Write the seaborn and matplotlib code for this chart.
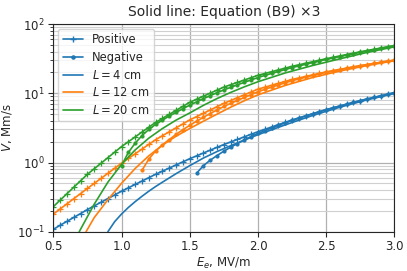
import numpy as np
import matplotlib
matplotlib.use("Agg")
import matplotlib.pyplot as plt
import seaborn as sns
from matplotlib.lines import Line2D

# Electric field grid for the measured curves, MV/m
e_pos = np.round(np.arange(0.5, 3.0001, 0.05), 2)

# Measured velocities, Mm/s (positive streamers)
v_pos_4 = [0.108, 0.124, 0.141, 0.161, 0.183, 0.209, 0.236, 0.267, 0.301, 0.340,
           0.385, 0.431, 0.482, 0.540, 0.604, 0.676, 0.750, 0.832, 0.923, 1.023,
           1.135, 1.247, 1.371, 1.507, 1.656, 1.820, 1.982, 2.158, 2.350, 2.559,
           2.786, 3.013, 3.258, 3.524, 3.811, 4.121, 4.416, 4.732, 5.070, 5.433,
           5.821, 6.180, 6.561, 6.966, 7.396, 7.852, 8.279, 8.730, 9.204, 9.705,
           10.23]
v_pos_12 = [0.180, 0.213, 0.253, 0.300, 0.356, 0.422, 0.499, 0.590, 0.698, 0.826,
            0.977, 1.143, 1.337, 1.563, 1.828, 2.138, 2.438, 2.780, 3.170, 3.614,
            4.121, 4.60, 5.14, 5.74, 6.41, 7.16, 7.87, 8.65, 9.51, 10.45,
            11.48, 12.25, 13.06, 13.93, 14.86, 15.85, 16.67, 17.54, 18.45, 19.41,
            20.42, 21.28, 22.18, 23.12, 24.10, 25.12, 26.06, 27.04, 28.05, 29.11,
            30.20]
v_pos_20 = [0.230, 0.286, 0.354, 0.440, 0.545, 0.676, 0.813, 0.977, 1.175, 1.413,
            1.698, 1.995, 2.344, 2.754, 3.236, 3.802, 4.345, 4.966, 5.675, 6.486,
            7.413, 8.20, 9.08, 10.05, 11.12, 12.30, 13.30, 14.39, 15.56, 16.83,
            18.20, 19.32, 20.51, 21.78, 23.12, 24.55, 25.82, 27.16, 28.58, 30.06,
            31.62, 33.11, 34.67, 36.31, 38.02, 39.81, 41.50, 43.25, 45.08, 46.99,
            48.98]

# Negative streamers start at higher fields
e_neg_4 = np.round(np.arange(1.55, 3.0001, 0.05), 2)
v_neg_4 = [0.70, 0.90, 1.08, 1.26, 1.46, 1.66, 1.88, 2.12, 2.37, 2.63,
           2.88, 3.15, 3.44, 3.74, 4.05, 4.37, 4.70, 5.04, 5.40, 5.78,
           6.15, 6.54, 6.95, 7.38, 7.83, 8.26, 8.71, 9.18, 9.68, 10.2]
e_neg_12 = np.round(np.arange(1.15, 3.0001, 0.05), 2)
v_neg_12 = [0.77, 1.12, 1.47, 1.80, 2.15, 2.55, 2.98, 3.45, 3.95, 4.5,
            5.1, 5.75, 6.45, 7.15, 7.9, 8.7, 9.6, 10.5, 11.4, 12.3,
            13.2, 14.2, 15.2, 16.1, 17.1, 18.1, 19.1, 20.1, 21.0, 22.0,
            23.0, 24.0, 25.0, 26.0, 27.0, 28.0, 29.1, 30.1]
e_neg_20 = np.round(np.arange(1.0, 3.0001, 0.05), 2)
v_neg_20 = [0.90, 1.40, 1.90, 2.45, 3.0, 3.55, 4.1, 4.7, 5.3, 6.0,
            6.75, 7.5, 8.35, 9.25, 10.2, 11.2, 12.2, 13.3, 14.4, 15.6,
            16.9, 18.1, 19.4, 20.7, 22.1, 23.5, 24.9, 26.3, 27.8, 29.3,
            30.9, 32.4, 34.0, 35.7, 37.4, 39.2, 41.0, 42.8, 44.7, 46.7, 48.7]

# Equation (B9) x3
e_eq_4 = [0.9, 0.95, 1.0, 1.05, 1.1, 1.15, 1.2, 1.25, 1.3, 1.4, 1.5, 1.6, 1.7, 1.8,
          1.9, 2.0, 2.2, 2.4, 2.6, 2.8, 3.0]
v_eq_4 = [0.100, 0.14, 0.18, 0.224, 0.272, 0.325, 0.385, 0.45, 0.52, 0.69, 0.90,
          1.16, 1.44, 1.75, 2.11, 2.52, 3.5, 4.78, 6.3, 8.05, 9.95]
e_eq_12 = [0.74, 0.8, 0.9, 1.0, 1.1, 1.2, 1.3, 1.4, 1.5, 1.6, 1.7, 1.8, 1.9, 2.0,
           2.2, 2.4, 2.6, 2.8, 3.0]
v_eq_12 = [0.100, 0.16, 0.29, 0.50, 0.82, 1.25, 1.78, 2.4, 3.1, 3.95, 5.0, 6.3, 7.8,
           9.5, 13.0, 16.9, 21.0, 25.2, 29.6]
e_eq_20 = [0.69, 0.75, 0.8, 0.9, 1.0, 1.1, 1.2, 1.3, 1.4, 1.5, 1.6, 1.7, 1.8, 1.9,
           2.0, 2.2, 2.4, 2.6, 2.8, 3.0]
v_eq_20 = [0.100, 0.165, 0.25, 0.52, 0.94, 1.52, 2.25, 3.1, 4.1, 5.2, 6.7, 8.4, 10.3,
           12.4, 14.7, 19.7, 25.2, 31.5, 39.0, 47.0]

lengths = ["4", "12", "20"]
colors = ["#1f77b4", "#ff7f0e", "#2ca02c"]

sns.set_style("ticks")
plt.rcParams["font.family"] = ["DejaVu Sans"]

fig, ax = plt.subplots(figsize=(4.07, 2.71), dpi=100)
fig.subplots_adjust(left=0.131, right=0.969, top=0.911, bottom=0.145)

pos_sets = [v_pos_4, v_pos_12, v_pos_20]
neg_sets = [(e_neg_4, v_neg_4), (e_neg_12, v_neg_12), (e_neg_20, v_neg_20)]
eq_sets = [(e_eq_4, v_eq_4), (e_eq_12, v_eq_12), (e_eq_20, v_eq_20)]

for i, c in enumerate(colors):
    sns.lineplot(x=e_pos, y=pos_sets[i], color=c, marker="+", markersize=5,
                 markeredgecolor=c, markeredgewidth=0.9, linewidth=1.2, ax=ax,
                 sort=False)
    sns.lineplot(x=neg_sets[i][0], y=neg_sets[i][1], color=c, marker=".",
                 markersize=4.5, markeredgecolor=c, markerfacecolor=c,
                 linewidth=1.2, ax=ax, sort=False)
    sns.lineplot(x=eq_sets[i][0], y=eq_sets[i][1], color=c, linewidth=1.2,
                 ax=ax, sort=False)

ax.set_yscale("log")
ax.set_xlim(0.5, 3.0)
ax.set_ylim(0.1, 100)
ax.grid(which="major", color="#b0b0b0", linewidth=0.9)
ax.grid(which="minor", axis="y", color="#d0d0d0", linewidth=0.8)
ax.tick_params(labelsize=8.5, pad=2.5)

ax.set_title("Solid line: Equation (B9) \u00d73", fontsize=10)
ax.set_xlabel("$E_e$, MV/m", fontsize=8.5, labelpad=2)
ax.set_ylabel("$V$, Mm/s", fontsize=8.5)
ax.yaxis.set_label_coords(-0.115, 0.5)

handles = [
    Line2D([], [], color=colors[0], marker="+", markersize=5, linewidth=1.2),
    Line2D([], [], color=colors[0], marker=".", markersize=4.5, linewidth=1.2),
]
labels = ["Positive", "Negative"]
for L, c in zip(lengths, colors):
    handles.append(Line2D([], [], color=c, linewidth=1.2))
    labels.append(f"$L = {L}$ cm")
ax.legend(handles, labels, loc="upper left", fontsize=8.3, frameon=True,
          handlelength=1.75, borderaxespad=0.4, labelspacing=0.4)

plt.savefig("out.png", dpi=100)
